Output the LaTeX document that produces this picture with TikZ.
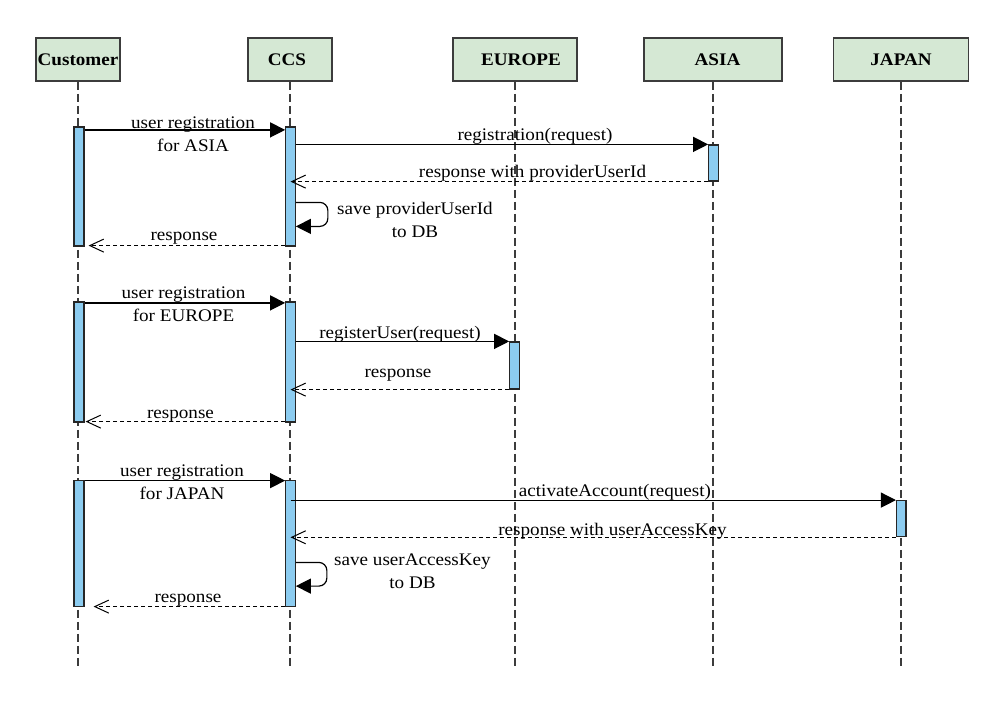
\documentclass[tikz,border=0pt]{standalone}
\usepackage{fontspec}
\setmainfont{Liberation Serif}[FakeStretch=1.08]
\usetikzlibrary{arrows.meta}
\definecolor{headfill}{RGB}{213,232,212}
\definecolor{actfill}{RGB}{140,204,240}
\definecolor{linegray}{RGB}{60,60,60}
\begin{document}
\begin{tikzpicture}[x=1pt,y=-1pt,
  head/.style={draw=linegray,fill=headfill,line width=1.5pt,minimum height=43pt,inner sep=0pt,font=\bfseries\fontsize{17.7}{20}\selectfont},
  act/.style={draw=black!85,fill=actfill,line width=1.2pt,minimum width=9.5pt,inner sep=0pt},
  lifeline/.style={draw=linegray,line width=1.4pt,dash pattern=on 8pt off 4pt},
  msg/.style={draw=black,line width=1.2pt,-{Triangle[length=15pt,width=15pt]}},
  reply/.style={draw=black,line width=1.1pt,dash pattern=on 4pt off 3pt,-{Straight Barb[length=14pt,width=13pt,line width=1pt]}},
  lbl/.style={font=\fontsize{17.7}{23}\selectfont,align=center,inner sep=0pt}]
\useasboundingbox (0,0) rectangle (1003,701);
\fill[white] (0,0) rectangle (1003,701);

% heads
\node[head,minimum width=84pt] (cust) at (78,59.5) {Customer};
\node[head,minimum width=84pt] (ccs) at (290,59.5) {\hspace*{-6pt}CCS};
\node[head,minimum width=124pt] (eur) at (515,59.5) {\hspace*{12pt}EUROPE};
\node[head,minimum width=138pt] (asia) at (713,59.5) {\hspace*{9pt}ASIA};
\node[head,minimum width=135pt] (jap) at (901,59.5) {JAPAN};

% lifelines
\coordinate (bottom) at (0,667);
\foreach \n in {cust,ccs,eur,asia,jap}
  \draw[lifeline] (\n.south) -- (\n.south |- bottom);

% activations
\node[act,minimum width=10pt,minimum height=119pt] (c1) at (79,186.5) {};
\node[act,minimum height=119pt] (s1) at (290.5,186.5) {};
\node[act,minimum height=36pt] (a1) at (713.5,163) {};
\node[act,minimum width=10pt,minimum height=120pt] (c2) at (79,362) {};
\node[act,minimum height=120pt] (s2) at (290.5,362) {};
\node[act,minimum height=47pt] (e2) at (514.5,365.5) {};
\node[act,minimum width=10pt,minimum height=126pt] (c3) at (79,543.7) {};
\node[act,minimum height=126pt] (s3) at (290.5,543.7) {};
\node[act,minimum height=36pt] (j3) at (901.3,518.7) {};

% section 1 (ASIA)
\draw[msg] ([yshift=-3.5pt]c1.north east) -- ([yshift=-3.5pt]s1.north west);
\draw[msg] (s1.east |- a1.north) -- (a1.north west);
\draw[reply] (a1.south west) -- (s1.center |- a1.south);
\draw[msg,rounded corners=8pt] ([yshift=-76pt]s1.north east) -- ++(32,0) -- ++(0,24) -- ([yshift=-100pt]s1.north east);
\draw[reply] ([yshift=1pt]s1.south west) -- ([shift={(4pt,1pt)}]c1.south east);

% section 2 (EUROPE)
\draw[msg] ([yshift=-1.5pt]c2.north east) -- ([yshift=-1.5pt]s2.north west);
\draw[msg] (s2.east |- e2.north) -- (e2.north west);
\draw[reply] (e2.south west) -- (s2.center |- e2.south);
\draw[reply] ([yshift=1pt]s2.south west) -- ([shift={(1pt,1pt)}]c2.south east);

% section 3 (JAPAN)
\draw[msg] ([yshift=-0.5pt]c3.north east) -- ([yshift=-0.5pt]s3.north west);
\draw[msg] (s3.center |- j3.north) -- (j3.north west);
\draw[reply] (j3.south west) -- (s3.center |- j3.south);
\draw[msg,rounded corners=8pt] ([yshift=-82.3pt]s3.north east) -- ++(31,0) -- ++(0,23.7) -- ([yshift=-106pt]s3.north east);
\draw[reply] ([yshift=0.7pt]s3.south west) -- ([shift={(9pt,0.7pt)}]c3.south east);

% labels
\node[lbl] (t1) at (193,134.5) {user registration\\for ASIA};
\node[lbl] (t2) at (535,136) {registration(request)};
\node[lbl] (t3) at (532.5,173.5) {response with providerUserId};
\node[lbl] (t4) at (415,219.5) {save providerUserId\\to DB};
\node[lbl] (t5) at (184,238) {response};
\node[lbl] (t6) at (183.5,304) {user registration\\for EUROPE};
\node[lbl] (t7) at (400,334) {registerUser(request)};
\node[lbl] (t8) at (398,375) {response};
\node[lbl] (t9) at (180.5,416) {response};
\node[lbl] (t10) at (182,482) {user registration\\for JAPAN};
\node[lbl] (t11) at (615,492.3) {activateAccount(request)};
\node[lbl] (t12) at (612.5,531.3) {response with userAccessKey};
\node[lbl] (t13) at (412.5,571) {save userAccessKey\\to DB};
\node[lbl] (t14) at (188,600) {response};
\end{tikzpicture}
\end{document}
